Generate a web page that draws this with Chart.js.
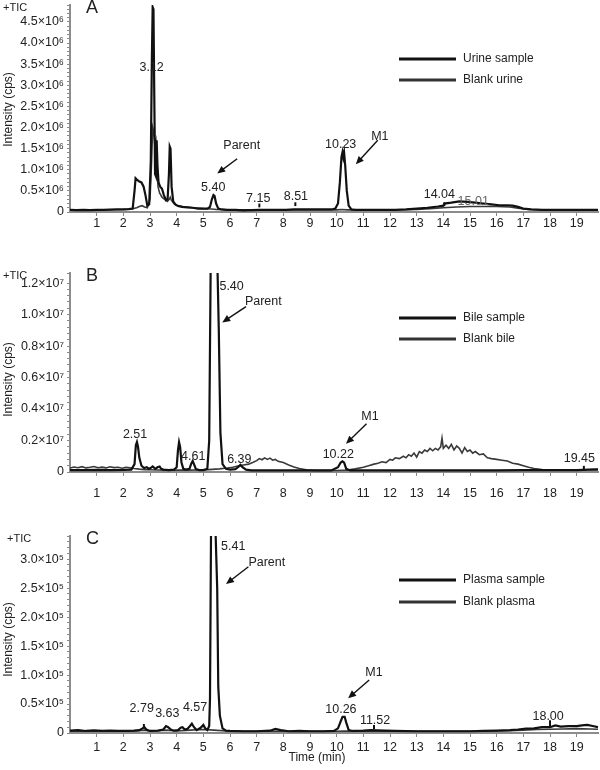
<!DOCTYPE html>
<html>
<head>
<meta charset="utf-8">
<script src="https://cdn.jsdelivr.net/npm/chart.js@4/dist/chart.umd.min.js"></script>
<style>
  body { margin: 0; background: #fff; width: 600px; height: 770px; position: relative; overflow: hidden; }
  .panel { position: absolute; left: 0; width: 600px; }
</style>
</head>
<body>
<div class="panel" style="top:0;height:240px"><canvas id="chartA"></canvas></div>
<div class="panel" style="top:245px;height:255px"><canvas id="chartB"></canvas></div>
<div class="panel" style="top:505px;height:265px"><canvas id="chartC"></canvas></div>
<script>
// ---- data (time in min, intensity in units of the axis exponent) ----

// A: urine, x10^6 cps
const urineSampleTime = [0,0.25,0.5,0.75,1,1.25,1.5,1.75,2,2.2,
  2.35,2.42,2.46,2.52,2.6,2.68,2.76,2.83,2.9,2.97,
  3.03,3.07,3.1,3.13,3.16,3.19,3.22,3.25,3.28,3.32,
  3.38,3.45,3.52,3.6,3.66,3.71,3.74,3.77,3.81,3.87,
  3.95,4.05,4.2,4.4,4.6,4.8,5.0,5.15,5.25,5.32,
  5.38,5.42,5.48,5.56,5.7,5.9,6.2,6.5,6.8,7.1,
  7.5,7.8,8.1,8.4,8.7,9.0,9.3,9.6,9.8,9.95,
  10.05,10.12,10.18,10.22,10.25,10.28,10.32,10.38,10.45,10.55,
  10.7,11,11.4,11.8,12.2,12.6,13,13.4,13.8,14.0,
  14.04,14.3,14.6,14.9,15.2,15.5,15.8,16.1,16.4,16.6,
  16.8,17.0,17.3,17.7,18.2,18.7,19.2,19.8];
const urineSample = [0.05,0.045,0.05,0.045,0.05,0.05,0.055,0.06,0.06,0.07,
  0.08,0.5,0.8,0.76,0.72,0.7,0.6,0.4,0.15,0.18,
  1.2,3.6,4.85,4.8,2.8,0.9,0.85,1.7,1.1,0.7,
  0.6,0.55,0.4,0.28,0.3,0.9,1.55,1.5,0.6,0.25,
  0.18,0.14,0.12,0.11,0.1,0.08,0.08,0.08,0.12,0.3,
  0.4,0.38,0.2,0.08,0.06,0.05,0.05,0.04,0.045,0.05,
  0.05,0.05,0.05,0.06,0.06,0.06,0.06,0.06,0.06,0.08,
  0.2,0.7,1.3,1.42,1.3,1.4,1.1,0.5,0.15,0.06,
  0.05,0.05,0.05,0.05,0.05,0.06,0.08,0.1,0.13,0.15,
  0.2,0.22,0.25,0.24,0.22,0.2,0.18,0.16,0.16,0.15,
  0.12,0.08,0.06,0.05,0.05,0.05,0.05,0.05];
const urineBlankTime = [0,0.5,1,1.5,2,2.3,2.5,2.6,2.7,2.8,
  2.9,3.0,3.06,3.1,3.14,3.18,3.22,3.26,3.3,3.36,
  3.45,3.55,3.65,3.72,3.76,3.8,3.9,4.0,4.3,4.6,
  5.0,5.3,5.5,6.0,7,8,9,10,10.2,10.4,
  11,12,13,13.5,14,14.5,15,15.5,16,16.5,
  16.8,17.2,18,19,19.8];
const urineBlank = [0.05,0.05,0.05,0.055,0.06,0.07,0.1,0.13,0.15,0.12,
  0.1,0.3,1.2,2.0,1.9,1.6,1.7,1.2,0.6,0.45,
  0.35,0.3,0.25,0.3,0.35,0.28,0.2,0.16,0.12,0.1,
  0.08,0.07,0.06,0.05,0.05,0.05,0.05,0.05,0.06,0.05,
  0.05,0.05,0.06,0.08,0.1,0.12,0.13,0.13,0.13,0.12,
  0.09,0.06,0.05,0.05,0.05];

// B: bile, x10^7 cps
const bileSampleTime = [0,0.5,1,1.5,2,2.3,2.42,2.47,2.51,2.55,
  2.6,2.68,2.78,2.88,2.95,3.02,3.1,3.2,3.28,3.36,
  3.42,3.5,3.7,3.9,4.0,4.05,4.09,4.13,4.18,4.25,
  4.35,4.48,4.55,4.6,4.65,4.72,4.85,5.0,5.15,5.22,
  5.28,5.4,5.52,5.58,5.64,5.72,5.85,6.0,6.2,6.3,
  6.39,6.47,6.6,6.8,7.2,8,9,9.8,10.05,10.15,
  10.22,10.28,10.36,10.5,11,12,13,14,15,16,
  17,18,19,19.45,19.8];
const bileSample = [0.012,0.012,0.013,0.012,0.013,0.015,0.05,0.17,0.19,0.16,
  0.09,0.04,0.025,0.03,0.02,0.025,0.035,0.02,0.03,0.035,
  0.02,0.015,0.012,0.015,0.03,0.14,0.19,0.16,0.06,0.02,
  0.015,0.02,0.055,0.07,0.05,0.018,0.012,0.012,0.02,0.2,
  1.4,1.42,1.38,0.9,0.25,0.05,0.02,0.015,0.018,0.03,
  0.045,0.03,0.015,0.01,0.01,0.01,0.01,0.01,0.03,0.06,
  0.068,0.06,0.02,0.01,0.01,0.01,0.01,0.01,0.01,0.01,
  0.012,0.012,0.012,0.015,0.015];
const bileBlankTime = [0,0.15,0.3,0.45,0.6,0.75,0.9,1.05,1.2,1.35,
  1.5,1.65,1.8,1.95,2.1,2.25,2.4,2.6,2.8,3.0,
  3.3,3.6,4.0,4.4,4.8,5.2,5.6,5.9,6.1,6.3,
  6.5,6.7,6.85,7.0,7.1,7.2,7.3,7.4,7.5,7.6,
  7.7,7.8,8.0,8.2,8.4,8.6,8.9,9.2,9.6,10.0,
  10.4,10.7,11.0,11.2,11.4,11.55,11.7,11.85,12.0,12.1,
  12.2,12.35,12.5,12.6,12.7,12.8,12.9,13.0,13.1,13.2,
  13.3,13.4,13.5,13.6,13.7,13.8,13.9,13.95,14.0,14.1,
  14.2,14.3,14.4,14.5,14.6,14.7,14.8,14.9,15.0,15.1,
  15.2,15.35,15.5,15.65,15.8,16.0,16.2,16.4,16.6,16.8,
  17.0,17.2,17.4,17.7,18.0,18.5,19.0,19.5,19.8];
const bileBlank = [0.025,0.032,0.027,0.034,0.026,0.03,0.035,0.027,0.031,0.026,
  0.033,0.028,0.03,0.024,0.03,0.026,0.022,0.018,0.015,0.014,
  0.013,0.012,0.012,0.012,0.013,0.015,0.02,0.025,0.03,0.038,
  0.045,0.05,0.06,0.072,0.085,0.078,0.09,0.08,0.088,0.075,
  0.08,0.068,0.06,0.045,0.032,0.022,0.013,0.01,0.01,0.01,
  0.012,0.02,0.03,0.04,0.05,0.055,0.065,0.06,0.08,0.075,
  0.09,0.085,0.1,0.09,0.11,0.1,0.12,0.095,0.13,0.12,
  0.14,0.13,0.15,0.135,0.15,0.14,0.16,0.215,0.15,0.17,
  0.15,0.175,0.14,0.165,0.15,0.12,0.155,0.13,0.14,0.12,
  0.13,0.11,0.115,0.09,0.085,0.08,0.075,0.07,0.055,0.05,
  0.04,0.03,0.022,0.016,0.013,0.012,0.013,0.015,0.018];

// C: plasma, x10^5 cps
const plasmaSampleTime = [0,0.3,0.6,0.9,1.2,1.5,1.8,2.1,2.4,2.6,
  2.72,2.79,2.86,3.0,3.3,3.5,3.6,3.68,3.78,3.9,
  4.05,4.15,4.22,4.3,4.4,4.5,4.57,4.65,4.75,4.9,
  5.0,5.07,5.15,5.22,5.25,5.29,5.45,5.52,5.56,5.62,
  5.72,5.85,6.0,6.5,7.0,7.5,7.7,7.9,8.2,8.6,
  9.0,9.5,9.9,10.05,10.15,10.22,10.3,10.36,10.45,10.6,
  11,11.3,11.52,11.8,12.2,13,14,15,15.5,16,
  16.5,16.8,17.1,17.4,17.7,18.0,18.2,18.4,18.7,19.0,
  19.2,19.4,19.6,19.8];
const plasmaSample = [0.04,0.05,0.035,0.045,0.035,0.04,0.035,0.035,0.04,0.05,
  0.08,0.1,0.06,0.035,0.04,0.06,0.12,0.1,0.06,0.04,
  0.05,0.09,0.1,0.06,0.07,0.12,0.16,0.1,0.05,0.09,
  0.14,0.08,0.05,0.12,0.6,3.6,3.6,2.5,0.8,0.3,
  0.08,0.04,0.035,0.03,0.03,0.04,0.07,0.05,0.03,0.035,
  0.03,0.03,0.035,0.08,0.2,0.28,0.28,0.18,0.05,0.035,
  0.04,0.05,0.045,0.04,0.035,0.03,0.03,0.03,0.035,0.04,
  0.05,0.06,0.075,0.08,0.1,0.1,0.13,0.11,0.12,0.12,
  0.13,0.14,0.12,0.1];
const plasmaBlankTime = [0,0.5,1,1.5,2,2.5,2.79,3,3.6,4,
  4.5,5.0,5.4,6,7,8,9,10,10.3,11,
  12,13,14,15,16,16.5,17,17.5,18,18.5,
  19,19.5,19.8];
const plasmaBlank = [0.03,0.035,0.03,0.03,0.03,0.035,0.05,0.03,0.05,0.035,
  0.05,0.06,0.05,0.03,0.03,0.03,0.03,0.03,0.035,0.03,
  0.03,0.03,0.03,0.03,0.035,0.04,0.05,0.06,0.065,0.07,
  0.075,0.07,0.065];

const xTicks = [1,2,3,4,5,6,7,8,9,10,11,12,13,14,15,16,17,18,19];

// ---- drawing ----
const FONT = '"Liberation Sans", Arial, sans-serif';
Chart.defaults.font.family = FONT;
Chart.defaults.font.size = 12;
Chart.defaults.color = '#222';

function toXY(t, v) {
  if (t.length !== v.length) throw new Error('length mismatch ' + t.length + ' vs ' + v.length);
  return t.map((x, i) => ({ x: x, y: v[i] }));
}

function arrow(ctx, x1, y1, x2, y2) {
  const ang = Math.atan2(y2 - y1, x2 - x1);
  ctx.beginPath();
  ctx.moveTo(x1, y1);
  ctx.lineTo(x2 - 5 * Math.cos(ang), y2 - 5 * Math.sin(ang));
  ctx.stroke();
  ctx.beginPath();
  ctx.moveTo(x2, y2);
  ctx.lineTo(x2 - 8 * Math.cos(ang) + 3.5 * Math.sin(ang), y2 - 8 * Math.sin(ang) - 3.5 * Math.cos(ang));
  ctx.lineTo(x2 - 8 * Math.cos(ang) - 3.5 * Math.sin(ang), y2 - 8 * Math.sin(ang) + 3.5 * Math.cos(ang));
  ctx.closePath();
  ctx.fill();
}

function decorPlugin(p) {
  return {
    id: 'decor',
    afterDraw(chart) {
      const { ctx, scales: { x, y }, chartArea: a } = chart;
      ctx.save();
      ctx.fillStyle = '#222';
      ctx.strokeStyle = '#111';
      // +TIC and panel letter
      ctx.textBaseline = 'middle';
      ctx.textAlign = 'left';
      ctx.font = '11px ' + FONT;
      ctx.fillText('+TIC', p.ticX, a.top + 3);
      ctx.font = '18px ' + FONT;
      ctx.fillText(p.letter, 86, a.top + 3);
      // y title
      ctx.save();
      ctx.translate(9, (a.top + a.bottom) / 2 + p.titleShift);
      ctx.rotate(-Math.PI / 2);
      ctx.textAlign = 'center';
      ctx.font = '12px ' + FONT;
      ctx.fillText('Intensity (cps)', 0, 0);
      ctx.restore();
      // peak labels
      ctx.font = '12.5px ' + FONT;
      ctx.textAlign = 'center';
      p.labels.forEach(l => {
        ctx.fillStyle = l.c || '#222';
        ctx.fillText(l.text, x.getPixelForValue(l.t), y.getPixelForValue(l.v));
      });
      // peak markers
      ctx.lineWidth = 2;
      p.marks.forEach(m => {
        const px = x.getPixelForValue(m[0]);
        ctx.beginPath();
        ctx.moveTo(px, y.getPixelForValue(m[1]));
        ctx.lineTo(px, y.getPixelForValue(m[2]));
        ctx.stroke();
      });
      // arrows
      ctx.fillStyle = '#111';
      ctx.lineWidth = 1.4;
      p.arrows.forEach(r => arrow(ctx, x.getPixelForValue(r[0]), y.getPixelForValue(r[1]),
        x.getPixelForValue(r[2]), y.getPixelForValue(r[3])));
      // legend
      ctx.textAlign = 'left';
      ctx.font = '12px ' + FONT;
      p.legend.forEach((name, i) => {
        const ly = a.top + p.legendY[i];
        ctx.strokeStyle = i === 0 ? '#111' : '#333';
        ctx.lineWidth = 3;
        ctx.beginPath();
        ctx.moveTo(399, ly);
        ctx.lineTo(456, ly);
        ctx.stroke();
        ctx.fillStyle = '#222';
        ctx.fillText(name, 463, ly);
      });
      if (p.xTitle) {
        ctx.textAlign = 'center';
        ctx.fillText(p.xTitle, 317, a.bottom + 25);
      }
      ctx.restore();
    }
  };
}

function makePanel(id, p) {
  const isMajor = v => Math.abs(v / p.major - Math.round(v / p.major)) < 1e-6;
  return new Chart(document.getElementById(id), {
    type: 'line',
    data: {
      datasets: [
        { label: p.legend[0], data: toXY(p.t1, p.v1), borderColor: '#111', borderWidth: 2.2,
          pointRadius: 0, tension: 0, order: 1 },
        { label: p.legend[1], data: toXY(p.t2, p.v2), borderColor: '#3a3a3a', borderWidth: 1.6,
          pointRadius: 0, tension: 0, order: 2 }
      ]
    },
    options: {
      animation: false,
      responsive: true,
      maintainAspectRatio: false,
      layout: { padding: { top: p.top, right: 2, left: 0, bottom: 0 } },
      plugins: { legend: { display: false }, tooltip: { enabled: false } },
      scales: {
        x: {
          type: 'linear', min: 0, max: 19.8,
          afterFit: s => { s.height = p.xh; s.paddingLeft = 0; s.paddingRight = 0; },
          afterBuildTicks: s => { s.ticks = xTicks.map(v => ({ value: v })); },
          ticks: { autoSkip: false, maxRotation: 0, padding: p.xpad, color: '#222', font: { size: 12.5 },
                   callback: v => String(v) },
          grid: { drawOnChartArea: false, tickLength: 4, color: '#888' },
          border: { color: '#8c8c8c', width: 2 }
        },
        y: {
          min: 0, max: p.ymax,
          afterFit: s => { s.width = 70; s.paddingTop = 0; s.paddingBottom = 0; },
          ticks: { stepSize: p.minor, autoSkip: false, padding: 3, color: '#222', font: { size: 12.5 },
                   callback: v => v === 0 ? '0' : (isMajor(v) ? v.toFixed(1) + '×10' + p.sup : '') },
          grid: { drawOnChartArea: false, tickLength: 3, color: '#888' },
          border: { color: '#8c8c8c', width: 2 }
        }
      }
    },
    plugins: [decorPlugin(p)]
  });
}

makePanel('chartA', {
  t1: urineSampleTime, v1: urineSample, t2: urineBlankTime, v2: urineBlank,
  legend: ['Urine sample', 'Blank urine'], legendY: [54, 75],
  top: 5, xh: 28, xpad: 0, ymax: 4.9, minor: 0.1, major: 0.5, sup: '⁶',
  letter: 'A', ticX: 3, titleShift: 1,
  labels: [
    { text: '3.12', t: 3.06, v: 3.43 }, { text: '5.40', t: 5.37, v: 0.58 },
    { text: '7.15', t: 7.06, v: 0.32 }, { text: '8.51', t: 8.47, v: 0.37 },
    { text: '10.23', t: 10.15, v: 1.6 }, { text: 'M1', t: 11.62, v: 1.78 },
    { text: 'Parent', t: 6.44, v: 1.58 }, { text: '14.04', t: 13.85, v: 0.42 },
    { text: '15.01', t: 15.12, v: 0.25, c: '#666' }
  ],
  marks: [[7.1, 0.11, 0.2], [8.45, 0.14, 0.23], [14.04, 0.14, 0.23]],
  arrows: [[11.54, 1.7, 10.72, 1.13], [6.27, 1.26, 5.52, 0.91]]
});

makePanel('chartB', {
  t1: bileSampleTime, v1: bileSample, t2: bileBlankTime, v2: bileBlank,
  legend: ['Bile sample', 'Blank bile'], legendY: [45, 66],
  top: 28, xh: 28, xpad: 10, ymax: 1.264, minor: 0.04, major: 0.2, sup: '⁷',
  letter: 'B', ticX: 3, titleShift: 7,
  labels: [
    { text: '5.40', t: 6.06, v: 1.18 }, { text: 'Parent', t: 7.25, v: 1.08 },
    { text: '2.51', t: 2.44, v: 0.24 }, { text: '4.61', t: 4.62, v: 0.095 },
    { text: '6.39', t: 6.35, v: 0.078 }, { text: 'M1', t: 11.25, v: 0.35 },
    { text: '10.22', t: 10.06, v: 0.109 }, { text: '19.45', t: 19.1, v: 0.084 }
  ],
  marks: [[19.27, 0.014, 0.039]],
  arrows: [[6.6, 1.05, 5.71, 0.95], [11.12, 0.306, 10.35, 0.179]]
});

makePanel('chartC', {
  t1: plasmaSampleTime, v1: plasmaSample, t2: plasmaBlankTime, v2: plasmaBlank,
  legend: ['Plasma sample', 'Blank plasma'], legendY: [44, 66],
  top: 31, xh: 37, xpad: 3, ymax: 3.4, minor: 0.1, major: 0.5, sup: '⁵',
  letter: 'C', ticX: 7, titleShift: 5, xTitle: 'Time (min)',
  labels: [
    { text: '5.41', t: 6.12, v: 3.22 }, { text: 'Parent', t: 7.38, v: 2.95 },
    { text: '2.79', t: 2.69, v: 0.43 }, { text: '3.63', t: 3.65, v: 0.34 },
    { text: '4.57', t: 4.69, v: 0.44 }, { text: 'M1', t: 11.4, v: 1.04 },
    { text: '10.26', t: 10.16, v: 0.41 }, { text: '11.52', t: 11.44, v: 0.22 },
    { text: '18.00', t: 17.93, v: 0.29 }
  ],
  marks: [[2.77, 0.086, 0.155], [11.4, 0.07, 0.14], [18.0, 0.09, 0.22]],
  arrows: [[6.69, 2.87, 5.85, 2.57], [11.22, 0.915, 10.43, 0.6]]
});
</script>
</body>
</html>
